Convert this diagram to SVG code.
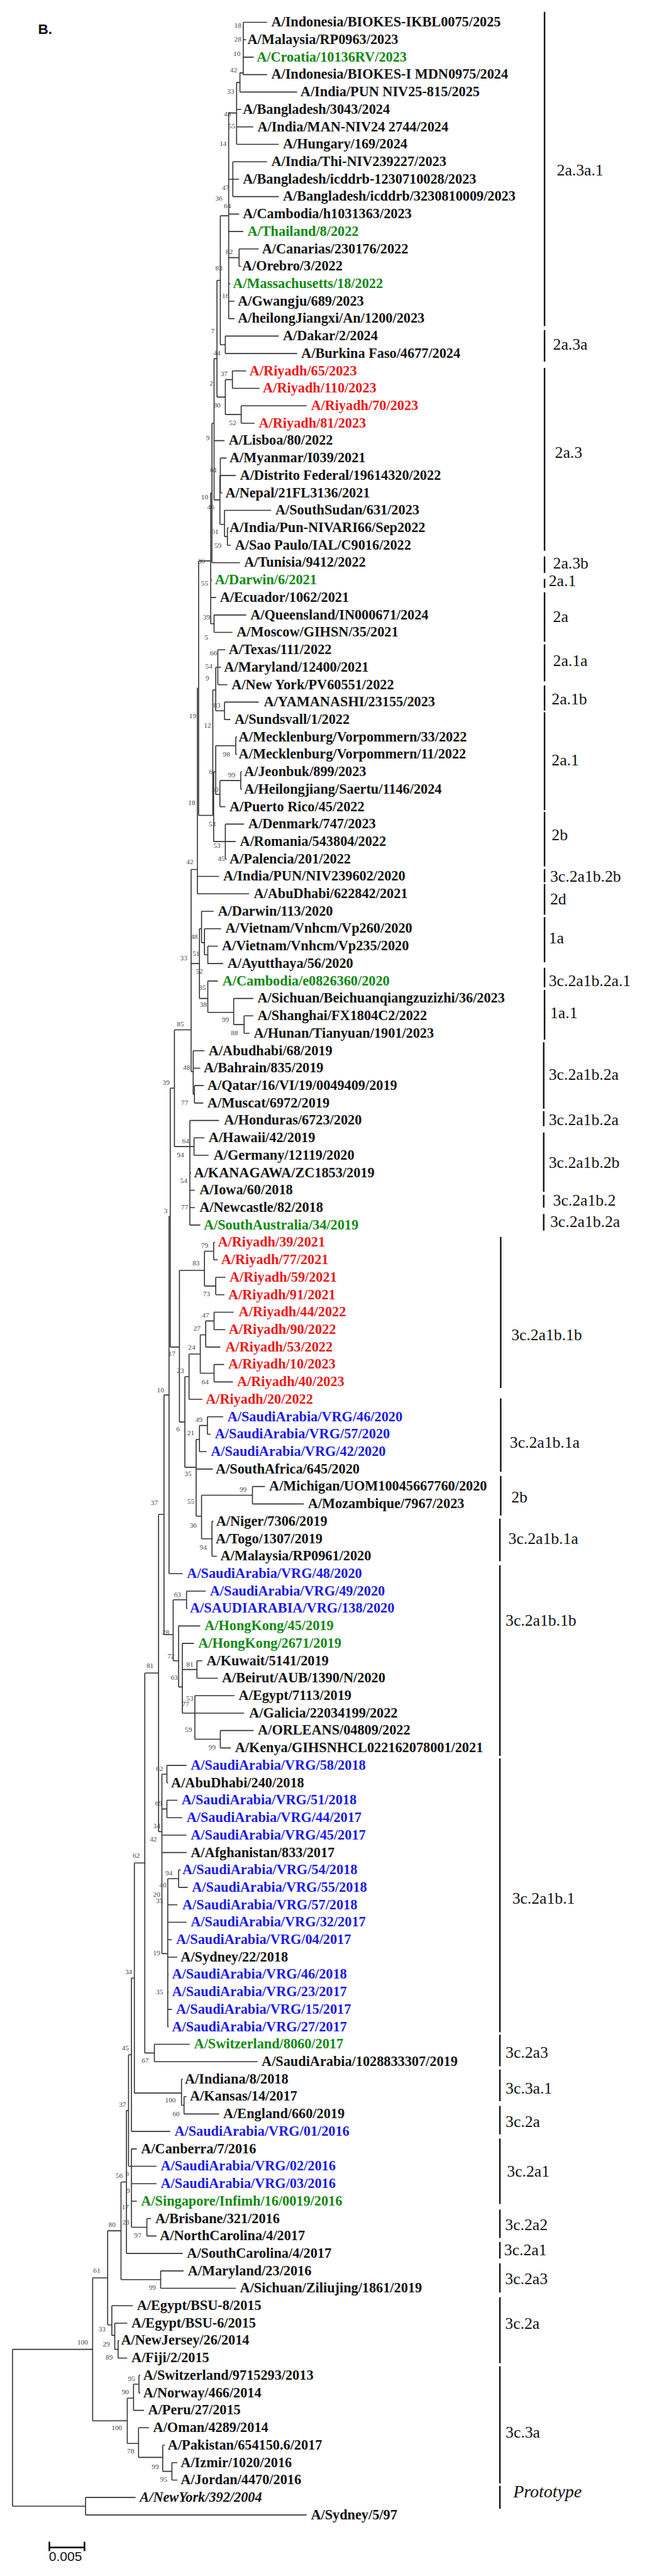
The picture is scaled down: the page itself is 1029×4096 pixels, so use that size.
<svg xmlns="http://www.w3.org/2000/svg" width="1029" height="4096" viewBox="0 0 1029 4096">
<style>
.l{font-family:"Liberation Serif","Times New Roman",serif;font-weight:bold;font-size:29.5px;fill:#111}
.g{fill:#0f8a0f}.r{fill:#f01818}.b{fill:#1a1aee}
.it{font-style:italic}
.bs{font-family:"Liberation Serif","Times New Roman",serif;font-size:15px;fill:#444;text-anchor:middle}
.cl{font-family:"Liberation Serif","Times New Roman",serif;font-size:34px;fill:#111}
.tr{fill:none;stroke:#333;stroke-width:1.6;vector-effect:non-scaling-stroke}
.br{fill:none;stroke:#111;stroke-width:2.4;vector-effect:non-scaling-stroke}
</style>
<rect width="1029" height="4096" fill="#fff"/>
<g transform="scale(0.755)">
<text x="80" y="72" font-family="Liberation Sans, Arial, sans-serif" font-weight="bold" font-size="30" fill="#111">B.</text>
<g id="connectors" transform="translate(0,10.29) scale(0.879,36.71)">
<path class="tr" d="M583 1H640M583 2H590M583 3H608M583 4H640M575 5H712M567 6H578M567 7H607M567 8H668M558 9H640M558 10H573M558 11H668M548 12H573M548 13H583M573 14H620M573 15H578M548 16H552M548 17H562M548 18H562M540 19H668M540 20H712M557 21H590M557 22H622M578 23H735M578 24H610M513 25H538M528 26H543M528 27H565M528 28H533M538 29H650M545 30H548M545 31H553M508 32H575M505 33H508M505 34H518M513 35H590M513 36H557M522 37H540M522 38H530M522 39H545M538 40H620M538 41H552M565 42H568M565 43H568M577 44H580M577 45H580M527 46H540M540 47H585M540 48H565M540 49H543M473 50H525M473 51H597M483 52H512M490 53H530M498 54H522M498 55H535M498 56H522M560 57H607M585 58H607M585 59H598M463 60H490M463 61H480M466 62H488M466 63H487M455 64H525M465 65H490M465 66H500M455 67H458M455 68H467M455 69H467M455 70H480M512 71H515M512 72H522M517 73H540M517 74H538M513 75H560M513 76H540M493 77H528M513 78H537M513 79H558M453 80H485M497 81H535M497 82H505M478 83H495M470 84H510M605 85H635M605 86H728M508 87H512M508 88H510M508 89H520M405 90H438M447 91H493M447 92H449M428 93H480M437 94H465M472 95H485M472 96H522M467 97H562M467 98H585M528 99H608M528 100H553M400 101H447M400 102H403M400 103H425M400 104H437M388 105H447M388 106H447M428 107H433M428 108H450M402 109H425M402 110H447M402 111H412M402 112H425M402 113H404M402 114H404M402 115H412M402 116H404M370 117H455M370 118H617M435 119H438M441 120H447M441 121H525M315 122H408M315 123H328M315 124H375M315 125H375M315 126H328M352 127H362M352 128H375M303 129H438M385 130H440M385 131H565M268 132H318M275 133H305M283 134H286M283 135H305M333 136H336M333 137H336M320 138H345M332 139H357M390 140H395M412 141H425M412 142H425M205 143H325M205 144H735"/>
<path class="tr" d="M583 1V4M575 3.9H583M575 3.9V5M567 4.45H575M567 4.45V8M558 9V11M573 14V15M548 6.2H567M548 10H558M548 14.5H573M548 6.2V18M540 19V20M528 12.1H548M528 19.5H540M528 12.1V19.5M557 21V22M578 23V24M540 21.5H557M540 23.5H578M540 21.5V23.5M520 15.8H528M520 22.5H540M520 15.8V22.5M528 26V28M545 30V31M538 30.5H545M538 29V30.5M527 27H528M527 29.8H538M527 27V29.8M513 20.3H520M513 28.4H527M513 20.3V28.4M508 24H513M508 24V32M513 35V36M505 28H508M505 35.5H513M505 28V35.5M522 37V39M538 40V41M517 38H522M517 40.5H538M517 38V40.5M565 42V43M577 44V45M527 44.5H577M527 44.5V46M517 42.5H565M517 45.3H527M517 42.5V45.3M540 47V49M512 44H517M512 48H540M512 44V48M510 39.3H517M510 46H512M510 39.3V46.5M476 31.9H505M476 46.5H510M476 31.9V46.5M473 39.2H476M473 39.2V51"/>
<path class="tr" d="M498 54V55M490 54.5H498M490 53V54.5M483 53.8H490M483 52V53.8M585 58V59M560 58.5H585M560 57V58.5M498 57.8H560M498 56V57.8M478 53H483M478 57H498M478 53V57M466 62V63M463 62.5H466M463 60V62.5M458 49.6H473M458 55H478M458 61.2H463M458 49.6V61.2M465 65V66M455 65.5H465M455 64V70M418 58.8H458M418 65.5H455M418 58.8V65.5M512 71V72M517 73V74M490 71.5H512M490 73.5H517M490 71.5V73.5M513 75V76M493 75.5H513M493 75.5V77M513 78V79M480 76.3H493M480 78.5H513M480 76.3V78.5M453 77.4H480M453 77.4V80M497 81V82M478 81.5H497M478 81.5V83M605 85V86M508 87V89M483 85.5H605M483 88H508M483 85.5V88M470 82.3H478M470 86.7H483M470 82.3V86.7M443 78.7H453M443 83.9H470M443 78.7V83.9M430 72.6H490M430 81.3H443M430 72.6V81.3M408 62.15H418M408 77H430M408 62.15V77M405 69.5H408M405 69.5V90"/>
<path class="tr" d="M447 91V92M472 95V96M528 99V100M467 99.5H528M467 97V99.5M437 95.5H472M437 98H467M437 94V98M428 96.5H437M428 93V96.5M415 91.5H447M415 95H428M415 91.5V95M393 79.75H405M393 93.5H415M393 79.75V93.5M400 101V102M400 103V104M428 107V108M402 107.5H428M402 107.5V116M388 101.5H400M388 103.5H400M388 111.8H402M388 101.5V111.8M380 86.6H393M380 104.8H388M380 86.6V104.8M370 117V118M347 95.7H380M347 117.5H370M347 95.7V117.5M441 120V121M435 120.5H441M435 119V120.5M322 106.6H347M322 119.8H435M322 106.6V119.8M315 113.2H322M315 113.2V122M352 127V128M315 127.5H352M315 123V127.5M308 117.6H315M308 124H315M308 117.6V124M303 120.8H308M303 120.8V129M385 130V131M290 124.9H303M290 130.5H385M290 124.9V130.5M283 134V135M275 134.5H283M275 133V134.5M268 133.7H275M268 132V133.7M258 127.7H290M258 133.1H268M258 127.7V133.1M333 136V137M320 136.5H333M320 136.5V138M412 141V142M390 141.5H412M390 140V141.5M332 140.7H390M332 139V140.7M305 137.3H320M305 139.9H332M305 137.3V139.9M222 130.4H258M222 138.6H305M222 130.4V138.6M205 143V144M30 134.5H222M30 143.5H205M30 134.5V143.5"/>
<path class="br" d="M1305 0.4V18.43M1305 18.65V20.47M1305 20.83V31.32M1305 31.64V32.59M1305 32.93V33.45M1305 33.7V36.54M1305 36.68V38.81M1305 39.04V40.49M1305 40.58V46.21M1305 46.3V49.43M1305 49.57V50.34M1305 50.43V52.2M1305 52.33V54.92M1305 55.24V56.37M1305 56.51V59.37M1303 59.51V63.33M1303 63.46V64.33M1303 64.69V68.09M1303 68.27V69M1303 69.36V70.32M1200 70.68V79.35M1200 79.94V84.16M1200 84.39V86.66M1198 86.84V89.29M1198 89.52V100.46M1198 100.6V116.31M1198 116.45V118.26M1198 118.44V120.26M1198 120.53V122.17M1198 122.4V126.16M1198 126.48V128.11M1198 128.34V129.29M1198 129.56V131.24M1198 131.51V135.29M1198 135.47V142.19M1198 142.33V143.64"/>
</g>
<g id="leaves" class="l">
<g id="n1"><text x="571.4" y="56">A/Indonesia/BIOKES-IKBL0075/2025</text></g>
<g id="n2"><text x="521.2" y="92.7">A/Malaysia/RP0963/2023</text></g>
<g id="n3"><text class="g" x="540.6" y="129.4">A/Croatia/10136RV/2023</text></g>
<g id="n4"><text x="571.4" y="166.1">A/Indonesia/BIOKES-I MDN0975/2024</text></g>
<g id="n5"><text x="632.9" y="202.8">A/India/PUN NIV25-815/2025</text></g>
<g id="n6"><text x="511.6" y="239.6">A/Bangladesh/3043/2024</text></g>
<g id="n7"><text x="542.3" y="276.3">A/India/MAN-NIV24 2744/2024</text></g>
<g id="n8"><text x="596" y="313">A/Hungary/169/2024</text></g>
<g id="n9"><text x="571.4" y="349.7">A/India/Thi-NIV239227/2023</text></g>
<g id="n10"><text x="511.6" y="386.4">A/Bangladesh/icddrb-1230710028/2023</text></g>
<g id="n11"><text x="596" y="423.1">A/Bangladesh/icddrb/3230810009/2023</text></g>
<g id="n12"><text x="511.6" y="459.8">A/Cambodia/h1031363/2023</text></g>
<g id="n13"><text class="g" x="521.2" y="496.5">A/Thailand/8/2022</text></g>
<g id="n14"><text x="552" y="533.2">A/Canarias/230176/2022</text></g>
<g id="n15"><text x="509.8" y="569.9">A/Orebro/3/2022</text></g>
<g id="n16"><text class="g" x="490.5" y="606.7">A/Massachusetts/18/2022</text></g>
<g id="n17"><text x="501" y="643.4">A/Gwangju/689/2023</text></g>
<g id="n18"><text x="501" y="680.1">A/heilongJiangxi/An/1200/2023</text></g>
<g id="n19"><text x="596" y="716.8">A/Dakar/2/2024</text></g>
<g id="n20"><text x="634.6" y="753.5">A/Burkina Faso/4677/2024</text></g>
<g id="n21"><text class="r" x="525.6" y="790.2">A/Riyadh/65/2023</text></g>
<g id="n22"><text class="r" x="553.8" y="826.9">A/Riyadh/110/2023</text></g>
<g id="n23"><text class="r" x="654.9" y="863.6">A/Riyadh/70/2023</text></g>
<g id="n24"><text class="r" x="545" y="900.3">A/Riyadh/81/2023</text></g>
<g id="n25"><text x="481.7" y="937">A/Lisboa/80/2022</text></g>
<g id="n26"><text x="483.5" y="973.8">A/Myanmar/I039/2021</text></g>
<g id="n27"><text x="505.4" y="1010.5">A/Distrito Federal/19614320/2022</text></g>
<g id="n28"><text x="474.7" y="1047.2">A/Nepal/21FL3136/2021</text></g>
<g id="n29"><text x="580.1" y="1083.9">A/SouthSudan/631/2023</text></g>
<g id="n30"><text x="483.5" y="1120.6">A/India/Pun-NIVARI66/Sep2022</text></g>
<g id="n31"><text x="494.9" y="1157.3">A/Sao Paulo/IAL/C9016/2022</text></g>
<g id="n32"><text x="514.2" y="1194">A/Tunisia/9412/2022</text></g>
<g id="n33"><text class="g" x="452.7" y="1230.7">A/Darwin/6/2021</text></g>
<g id="n34"><text x="463.2" y="1267.4">A/Ecuador/1062/2021</text></g>
<g id="n35"><text x="527.4" y="1304.1">A/Queensland/IN000671/2024</text></g>
<g id="n36"><text x="498.4" y="1340.9">A/Moscow/GIHSN/35/2021</text></g>
<g id="n37"><text x="481.7" y="1377.6">A/Texas/111/2022</text></g>
<g id="n38"><text x="472" y="1414.3">A/Maryland/12400/2021</text></g>
<g id="n39"><text x="487.8" y="1451">A/New York/PV60551/2022</text></g>
<g id="n40"><text x="555.5" y="1487.7">A/YAMANASHI/23155/2023</text></g>
<g id="n41"><text x="494" y="1524.4">A/Sundsvall/1/2022</text></g>
<g id="n42"><text x="502.8" y="1561.1">A/Mecklenburg/Vorpommern/33/2022</text></g>
<g id="n43"><text x="502.8" y="1597.8">A/Mecklenburg/Vorpommern/11/2022</text></g>
<g id="n44"><text x="514.2" y="1634.5">A/Jeonbuk/899/2023</text></g>
<g id="n45"><text x="514.2" y="1671.2">A/Heilongjiang/Saertu/1146/2024</text></g>
<g id="n46"><text x="483.5" y="1708">A/Puerto Rico/45/2022</text></g>
<g id="n47"><text x="523" y="1744.7">A/Denmark/747/2023</text></g>
<g id="n48"><text x="505.4" y="1781.4">A/Romania/543804/2022</text></g>
<g id="n49"><text x="483.5" y="1818.1">A/Palencia/201/2022</text></g>
<g id="n50"><text x="470.3" y="1854.8">A/India/PUN/NIV239602/2020</text></g>
<g id="n51"><text x="534.4" y="1891.5">A/AbuDhabi/622842/2021</text></g>
<g id="n52"><text x="458.8" y="1928.2">A/Darwin/113/2020</text></g>
<g id="n53"><text x="474.7" y="1964.9">A/Vietnam/Vnhcm/Vp260/2020</text></g>
<g id="n54"><text x="467.6" y="2001.6">A/Vietnam/Vnhcm/Vp235/2020</text></g>
<g id="n55"><text x="479.1" y="2038.3">A/Ayutthaya/56/2020</text></g>
<g id="n56"><text class="g" x="468.5" y="2075.1">A/Cambodia/e0826360/2020</text></g>
<g id="n57"><text x="542.3" y="2111.8">A/Sichuan/Beichuanqiangzuzizhi/36/2023</text></g>
<g id="n58"><text x="542.3" y="2148.5">A/Shanghai/FX1804C2/2022</text></g>
<g id="n59"><text x="534.4" y="2185.2">A/Hunan/Tianyuan/1901/2023</text></g>
<g id="n60"><text x="439.5" y="2221.9">A/Abudhabi/68/2019</text></g>
<g id="n61"><text x="429" y="2258.6">A/Bahrain/835/2019</text></g>
<g id="n62"><text x="436.9" y="2295.3">A/Qatar/16/VI/19/0049409/2019</text></g>
<g id="n63"><text x="436.9" y="2332">A/Muscat/6972/2019</text></g>
<g id="n64"><text x="472" y="2368.7">A/Honduras/6723/2020</text></g>
<g id="n65"><text x="439.5" y="2405.4">A/Hawaii/42/2019</text></g>
<g id="n66"><text x="450" y="2442.2">A/Germany/12119/2020</text></g>
<g id="n67"><text x="408.7" y="2478.9">A/KANAGAWA/ZC1853/2019</text></g>
<g id="n68"><text x="420.2" y="2515.6">A/Iowa/60/2018</text></g>
<g id="n69"><text x="420.2" y="2552.3">A/Newcastle/82/2018</text></g>
<g id="n70"><text class="g" x="429" y="2589">A/SouthAustralia/34/2019</text></g>
<g id="n71"><text class="r" x="458.8" y="2625.7">A/Riyadh/39/2021</text></g>
<g id="n72"><text class="r" x="465.9" y="2662.4">A/Riyadh/77/2021</text></g>
<g id="n73"><text class="r" x="483.5" y="2699.1">A/Riyadh/59/2021</text></g>
<g id="n74"><text class="r" x="480.8" y="2735.8">A/Riyadh/91/2021</text></g>
<g id="n75"><text class="r" x="502.8" y="2772.5">A/Riyadh/44/2022</text></g>
<g id="n76"><text class="r" x="481.7" y="2809.3">A/Riyadh/90/2022</text></g>
<g id="n77"><text class="r" x="474.7" y="2846">A/Riyadh/53/2022</text></g>
<g id="n78"><text class="r" x="480.8" y="2882.7">A/Riyadh/10/2023</text></g>
<g id="n79"><text class="r" x="499.3" y="2919.4">A/Riyadh/40/2023</text></g>
<g id="n80"><text class="r" x="433.3" y="2956.1">A/Riyadh/20/2022</text></g>
<g id="n81"><text class="b" x="479.1" y="2992.8">A/SaudiArabia/VRG/46/2020</text></g>
<g id="n82"><text class="b" x="452.7" y="3029.5">A/SaudiArabia/VRG/57/2020</text></g>
<g id="n83"><text class="b" x="443.9" y="3066.2">A/SaudiArabia/VRG/42/2020</text></g>
<g id="n84"><text x="454.4" y="3102.9">A/SouthAfrica/645/2020</text></g>
<g id="n85"><text x="567" y="3139.6">A/Michigan/UOM10045667760/2020</text></g>
<g id="n86"><text x="648.7" y="3176.4">A/Mozambique/7967/2023</text></g>
<g id="n87"><text x="455.3" y="3213.1">A/Niger/7306/2019</text></g>
<g id="n88"><text x="454.4" y="3249.8">A/Togo/1307/2019</text></g>
<g id="n89"><text x="464.1" y="3286.5">A/Malaysia/RP0961/2020</text></g>
<g id="n90"><text class="b" x="393.8" y="3323.2">A/SaudiArabia/VRG/48/2020</text></g>
<g id="n91"><text class="b" x="442.1" y="3359.9">A/SaudiArabia/VRG/49/2020</text></g>
<g id="n92"><text class="b" x="400" y="3396.6">A/SAUDIARABIA/VRG/138/2020</text></g>
<g id="n93"><text class="g" x="430.7" y="3433.3">A/HongKong/45/2019</text></g>
<g id="n94"><text class="g" x="417.5" y="3470">A/HongKong/2671/2019</text></g>
<g id="n95"><text x="435.1" y="3506.7">A/Kuwait/5141/2019</text></g>
<g id="n96"><text x="467.6" y="3543.5">A/Beirut/AUB/1390/N/2020</text></g>
<g id="n97"><text x="502.8" y="3580.2">A/Egypt/7113/2019</text></g>
<g id="n98"><text x="524.8" y="3616.9">A/Galicia/22034199/2022</text></g>
<g id="n99"><text x="543.2" y="3653.6">A/ORLEANS/04809/2022</text></g>
<g id="n100"><text x="494.9" y="3690.3">A/Kenya/GIHSNHCL022162078001/2021</text></g>
<g id="n101"><text class="b" x="401.7" y="3727">A/SaudiArabia/VRG/58/2018</text></g>
<g id="n102"><text x="360.4" y="3763.7">A/AbuDhabi/240/2018</text></g>
<g id="n103"><text class="b" x="382.4" y="3800.4">A/SaudiArabia/VRG/51/2018</text></g>
<g id="n104"><text class="b" x="392.9" y="3837.1">A/SaudiArabia/VRG/44/2017</text></g>
<g id="n105"><text class="b" x="401.7" y="3873.8">A/SaudiArabia/VRG/45/2017</text></g>
<g id="n106"><text x="401.7" y="3910.6">A/Afghanistan/833/2017</text></g>
<g id="n107"><text class="b" x="384.1" y="3947.3">A/SaudiArabia/VRG/54/2018</text></g>
<g id="n108"><text class="b" x="404.3" y="3984">A/SaudiArabia/VRG/55/2018</text></g>
<g id="n109"><text class="b" x="384.1" y="4020.7">A/SaudiArabia/VRG/57/2018</text></g>
<g id="n110"><text class="b" x="401.7" y="4057.4">A/SaudiArabia/VRG/32/2017</text></g>
<g id="n111"><text class="b" x="370.9" y="4094.1">A/SaudiArabia/VRG/04/2017</text></g>
<g id="n112"><text x="380.6" y="4130.8">A/Sydney/22/2018</text></g>
<g id="n113"><text class="b" x="362.1" y="4167.5">A/SaudiArabia/VRG/46/2018</text></g>
<g id="n114"><text class="b" x="362.1" y="4204.2">A/SaudiArabia/VRG/23/2017</text></g>
<g id="n115"><text class="b" x="370.9" y="4240.9">A/SaudiArabia/VRG/15/2017</text></g>
<g id="n116"><text class="b" x="362.1" y="4277.7">A/SaudiArabia/VRG/27/2017</text></g>
<g id="n117"><text class="g" x="408.7" y="4314.4">A/Switzerland/8060/2017</text></g>
<g id="n118"><text x="551.1" y="4351.1">A/SaudiArabia/1028833307/2019</text></g>
<g id="n119"><text x="389.4" y="4387.8">A/Indiana/8/2018</text></g>
<g id="n120"><text x="400" y="4424.5">A/Kansas/14/2017</text></g>
<g id="n121"><text x="470.3" y="4461.2">A/England/660/2019</text></g>
<g id="n122"><text class="b" x="367.4" y="4497.9">A/SaudiArabia/VRG/01/2016</text></g>
<g id="n123"><text x="297.1" y="4534.6">A/Canberra/7/2016</text></g>
<g id="n124"><text class="b" x="338.4" y="4571.3">A/SaudiArabia/VRG/02/2016</text></g>
<g id="n125"><text class="b" x="338.4" y="4608">A/SaudiArabia/VRG/03/2016</text></g>
<g id="n126"><text class="g" x="297.1" y="4644.8">A/Singapore/Infimh/16/0019/2016</text></g>
<g id="n127"><text x="327" y="4681.5">A/Brisbane/321/2016</text></g>
<g id="n128"><text x="336.7" y="4718.2">A/NorthCarolina/4/2017</text></g>
<g id="n129"><text x="393.8" y="4754.9">A/SouthCarolina/4/2017</text></g>
<g id="n130"><text x="395.6" y="4791.6">A/Maryland/23/2016</text></g>
<g id="n131"><text x="505.4" y="4828.3">A/Sichuan/Ziliujing/1861/2019</text></g>
<g id="n132"><text x="288.3" y="4865">A/Egypt/BSU-8/2015</text></g>
<g id="n133"><text x="276.9" y="4901.7">A/Egypt/BSU-6/2015</text></g>
<g id="n134"><text x="254.9" y="4938.4">A/NewJersey/26/2014</text></g>
<g id="n135"><text x="276.9" y="4975.1">A/Fiji/2/2015</text></g>
<g id="n136"><text x="301.5" y="5011.9">A/Switzerland/9715293/2013</text></g>
<g id="n137"><text x="301.5" y="5048.6">A/Norway/466/2014</text></g>
<g id="n138"><text x="312" y="5085.3">A/Peru/27/2015</text></g>
<g id="n139"><text x="322.6" y="5122">A/Oman/4289/2014</text></g>
<g id="n140"><text x="353.4" y="5158.7">A/Pakistan/654150.6/2017</text></g>
<g id="n141"><text x="380.6" y="5195.4">A/Izmir/1020/2016</text></g>
<g id="n142"><text x="380.6" y="5232.1">A/Jordan/4470/2016</text></g>
<g id="n143"><text class="it" x="294.5" y="5268.8">A/NewYork/392/2004</text></g>
<g id="n144"><text x="654.9" y="5305.5">A/Sydney/5/97</text></g>
</g>
<g id="bootstrap" class="bs">
<text x="501" y="58">18</text><text x="501" y="87">28</text><text x="499" y="118">10</text><text x="492" y="152">42</text><text x="486" y="197">33</text><text x="479" y="245">48</text><text x="488" y="270">55</text><text x="470" y="307">14</text><text x="475" y="400">47</text><text x="461" y="423">36</text><text x="479" y="438">64</text>
<text x="483" y="535">82</text><text x="461" y="570">83</text><text x="475" y="628">16</text><text x="448" y="702">7</text><text x="457" y="748">44</text><text x="472" y="792">37</text><text x="445" y="812">2</text><text x="457" y="858">80</text><text x="490" y="895">52</text>
<text x="438" y="927">9</text><text x="450" y="995">61</text><text x="431" y="1052">10</text><text x="444" y="1073">46</text><text x="453" y="1125">61</text><text x="459" y="1153">59</text><text x="424" y="1187">36</text><text x="431" y="1233">55</text><text x="435" y="1305">39</text><text x="435" y="1347">5</text>
<text x="450" y="1380">66</text><text x="440" y="1408">54</text><text x="437" y="1433">9</text><text x="457" y="1490">83</text><text x="406" y="1512">19</text><text x="437" y="1533">12</text><text x="477" y="1593">98</text><text x="444" y="1630">6</text><text x="488" y="1637">99</text><text x="453" y="1667">30</text><text x="404" y="1695">18</text><text x="447" y="1740">53</text><text x="457" y="1785">53</text>
<text x="466" y="1813">45</text><text x="400" y="1820">42</text><text x="409" y="1977">48</text><text x="413" y="2013">51</text><text x="387" y="2023">33</text><text x="420" y="2050">52</text><text x="426" y="2085">35</text><text x="428" y="2120">38</text><text x="475" y="2152">99</text><text x="380" y="2162">85</text><text x="494" y="2180">88</text><text x="393" y="2253">48</text>
<text x="350" y="2285">39</text><text x="389" y="2327">77</text><text x="391" y="2408">64</text><text x="380" y="2437">94</text><text x="387" y="2492">54</text><text x="389" y="2547">77</text><text x="349" y="2555">3</text><text x="431" y="2628">79</text><text x="413" y="2665">83</text>
<text x="435" y="2730">73</text><text x="433" y="2775">47</text><text x="415" y="2802">27</text><text x="404" y="2843">24</text><text x="362" y="2855">17</text><text x="380" y="2892">23</text><text x="432" y="2915">64</text><text x="338" y="2932">10</text><text x="419" y="2995">49</text><text x="375" y="3015">6</text><text x="402" y="3023">21</text><text x="396" y="3108">35</text><text x="512" y="3142">99</text>
<text x="402" y="3167">55</text><text x="325" y="3170">37</text><text x="407" y="3217">36</text><text x="428" y="3263">94</text><text x="374" y="3363">63</text><text x="349" y="3442">28</text><text x="360" y="3493">72</text><text x="400" y="3510">81</text><text x="316" y="3512">81</text><text x="367" y="3538">63</text><text x="400" y="3582">53</text><text x="391" y="3593">77</text>
<text x="397" y="3648">59</text><text x="447" y="3685">99</text><text x="336" y="3730">62</text><text x="334" y="3803">69</text><text x="330" y="3850">34</text><text x="323" y="3878">42</text><text x="287" y="3913">62</text><text x="356" y="3950">94</text><text x="343" y="3975">40</text><text x="330" y="3995">20</text><text x="336" y="4008">35</text>
<text x="330" y="4118">19</text><text x="271" y="4157">34</text><text x="336" y="4200">35</text><text x="264" y="4318">45</text><text x="306" y="4345">67</text><text x="359" y="4428">100</text><text x="371" y="4457">60</text><text x="258" y="4437">37</text>
<text x="251" y="4587">56</text><text x="268" y="4583">6</text><text x="270" y="4618">9</text><text x="264" y="4653">17</text><text x="265" y="4685">23</text><text x="236" y="4690">80</text><text x="290" y="4713">97</text><text x="204" y="4787">61</text><text x="321" y="4823">99</text><text x="215" y="4910">33</text><text x="224" y="4942">29</text><text x="174" y="4938">100</text>
<text x="230" y="4970">89</text><text x="277" y="5015">95</text><text x="264" y="5042">90</text><text x="246" y="5118">100</text><text x="275" y="5167">78</text><text x="327" y="5200">99</text><text x="345" y="5227">95</text>
</g>
<g id="clades" class="cl">
<text x="1173" y="369">2a.3a.1</text><text x="1165" y="737">2a.3a</text><text x="1169" y="964">2a.3</text><text x="1165" y="1197">2a.3b</text><text x="1156" y="1235">2a.1</text><text x="1165" y="1310">2a</text><text x="1165" y="1402">2a.1a</text><text x="1162" y="1484">2a.1b</text><text x="1162" y="1612">2a.1</text><text x="1162" y="1769">2b</text>
<text x="1159" y="1857">3c.2a1b.2b</text><text x="1159" y="1905">2d</text><text x="1156" y="1987">1a</text><text x="1156" y="2077">3c.2a1b.2a.1</text><text x="1159" y="2144">1a.1</text><text x="1156" y="2274">3c.2a1b.2a</text><text x="1156" y="2370">3c.2a1b.2a</text><text x="1156" y="2459">3c.2a1b.2b</text><text x="1165" y="2539">3c.2a1b.2</text><text x="1159" y="2584">3c.2a1b.2a</text>
<text x="1077" y="2822">3c.2a1b.1b</text><text x="1074" y="3049">3c.2a1b.1a</text><text x="1077" y="3164">2b</text><text x="1071" y="3252">3c.2a1b.1a</text><text x="1065" y="3424">3c.2a1b.1b</text><text x="1079" y="4009">3c.2a1b.1</text><text x="1065" y="4334">3c.2a3</text><text x="1065" y="4409">3c.3a.1</text><text x="1065" y="4480">3c.2a</text><text x="1068" y="4584">3c.2a1</text>
<text x="1064" y="4697">3c.2a2</text><text x="1062" y="4750">3c.2a1</text><text x="1064" y="4810">3c.2a3</text><text x="1064" y="4905">3c.2a</text><text x="1065" y="5134">3c.3a</text><text x="1081" y="5259" font-style="italic" font-size="37">Prototype</text>
</g>
<g id="scalebar">
<path d="M104 5365H178M104 5353V5373M178 5353V5373" fill="none" stroke="#111" stroke-width="3.5"/>
<text x="103" y="5393" font-family="Liberation Sans, Arial, sans-serif" font-size="28" fill="#111">0.005</text>
</g>
</g>
</svg>
